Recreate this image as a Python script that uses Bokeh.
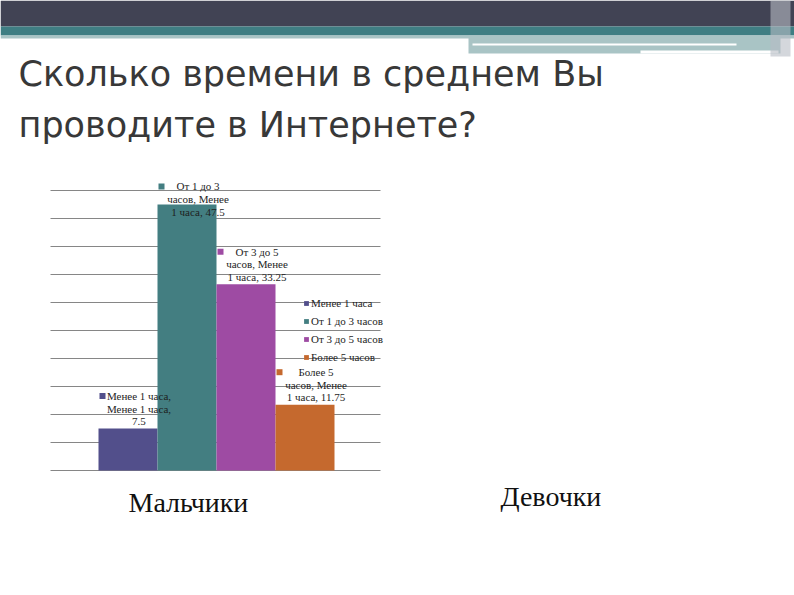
from bokeh.plotting import figure
from bokeh.models import Range1d, Legend, LegendItem, ColumnDataSource
from bokeh.core.properties import value
from bokeh.embed import file_html
from bokeh.resources import INLINE

# ---------------- data ----------------
title_lines = ["Сколько времени в среднем Вы", "проводите в Интернете?"]
series_names = ["Менее 1 часа", "От 1 до 3 часов", "От 3 до 5 часов", "Более 5 часов"]
series_values = [7.5, 47.5, 33.25, 11.75]
series_colors = ["#524F8B", "#437E81", "#9E4BA3", "#C5692E"]
label_texts = [
    "Менее 1 часа,\nМенее 1 часа,\n7.5",
    "От 1 до 3\nчасов, Менее\n1 часа, 47.5",
    "От 3 до 5\nчасов, Менее\n1 часа, 33.25",
    "Более 5\nчасов, Менее\n1 часа, 11.75",
]
group_labels = ["Мальчики", "Девочки"]
grid_values = [0, 5, 10, 15, 20, 25, 30, 35, 40, 45, 50]

# ---------------- layout ----------------
W, H = 794, 595
OFF = 0                # page offset of the canvas
BAR_PX = 59.0          # pixels per bar slot
PX_PER_UNIT = 5.6      # pixels per value unit
X0 = 127.5             # page x of first bar centre
Y0 = 470.0             # page y of value 0

p = figure(width=W, height=H, output_backend="svg", toolbar_location=None,
           x_axis_type=None, y_axis_type=None, min_border=0, title=None,
           x_range=Range1d((OFF - X0) / BAR_PX, (OFF + W - X0) / BAR_PX),
           y_range=Range1d(-(OFF + H - Y0) / PX_PER_UNIT, (Y0 - OFF) / PX_PER_UNIT))
p.outline_line_color = None
p.grid.visible = False
p.background_fill_color = "white"
p.border_fill_color = "white"
p.extra_x_ranges = {"px": Range1d(OFF, OFF + W)}
p.extra_y_ranges = {"px": Range1d(OFF + H, OFF)}

# header decoration
def band(l, r, t, b, c, a=1.0):
    p.quad(left=[l], right=[r], top=[t], bottom=[b], fill_color=c, line_color=None,
           fill_alpha=a, x_range_name="px", y_range_name="px")

band(0, 800, 0, 26, "#414354")
band(0, 800, 26, 35, "#3F7E83")
band(0, 800, 35, 38, "#A9C4C5")
band(468, 780, 35, 53, "#A9C4C5")
band(472, 736, 43, 45, "white")
band(640, 778, 50, 53, "white")
band(770, 790, 0, 56, "#B8BCC4", 0.6)

# title
for i, t in enumerate(title_lines):
    p.text(x=[18], y=[73 + 51 * i], text=[t], text_font=value("DejaVu Sans"),
           text_font_size="35px", text_color="#383838", text_baseline="alphabetic",
           x_range_name="px", y_range_name="px")

# gridlines
n = len(series_values)
gx0 = (50 - X0) / BAR_PX
gx1 = (380 - X0) / BAR_PX
p.segment(x0=[gx0] * len(grid_values), x1=[gx1] * len(grid_values),
          y0=grid_values, y1=grid_values, line_color="#868686", line_width=1)

# bars
xs = list(range(n))
src = ColumnDataSource(dict(x=xs, top=series_values, color=series_colors,
                            name=series_names, label=label_texts))
bars = p.vbar(x="x", top="top", bottom=0, width=1.0, fill_color="color",
              line_color=None, source=src)

# data labels
label_top = [min(v + 38.5 / PX_PER_UNIT, 51.8) for v in series_values]
lsrc = ColumnDataSource(dict(x=xs, y=label_top, label=label_texts, color=series_colors,
                             mx=[x - 25.5 / BAR_PX for x in xs],
                             my=[y - 6.0 / PX_PER_UNIT for y in label_top]))
p.text(x="x", y="y", text="label", source=lsrc, x_offset=11, text_align="center",
       text_baseline="top", text_font=value("Liberation Serif"), text_font_size="11px",
       text_color="#1E1E1E", text_line_height=1.05)
p.rect(x="mx", y="my", width=6, height=6, width_units="screen", height_units="screen",
       source=lsrc, fill_color="color", line_color=None)

# legend
legend = Legend(items=[LegendItem(label=s, renderers=[bars], index=i)
                       for i, s in enumerate(series_names)],
                location=(303 - OFF, (OFF + H) - 363), margin=0, padding=0, spacing=6,
                glyph_width=6, glyph_height=6, label_height=12, label_standoff=2,
                label_text_font="Liberation Serif", label_text_font_size="11px",
                label_text_color="#1E1E1E", background_fill_alpha=0,
                border_line_alpha=0)
p.add_layout(legend)

# group labels
p.text(x=[128], y=[502], text=[group_labels[0]], text_font=value("Liberation Serif"),
       text_font_size="28px", text_color="#111111", text_baseline="alphabetic",
       x_range_name="px", y_range_name="px")
p.text(x=[500], y=[496], text=[group_labels[1]], text_font=value("Liberation Serif"),
       text_font_size="28px", text_color="#111111", text_baseline="alphabetic",
       x_range_name="px", y_range_name="px")

open("out.html", "w").write(file_html(p, INLINE))
